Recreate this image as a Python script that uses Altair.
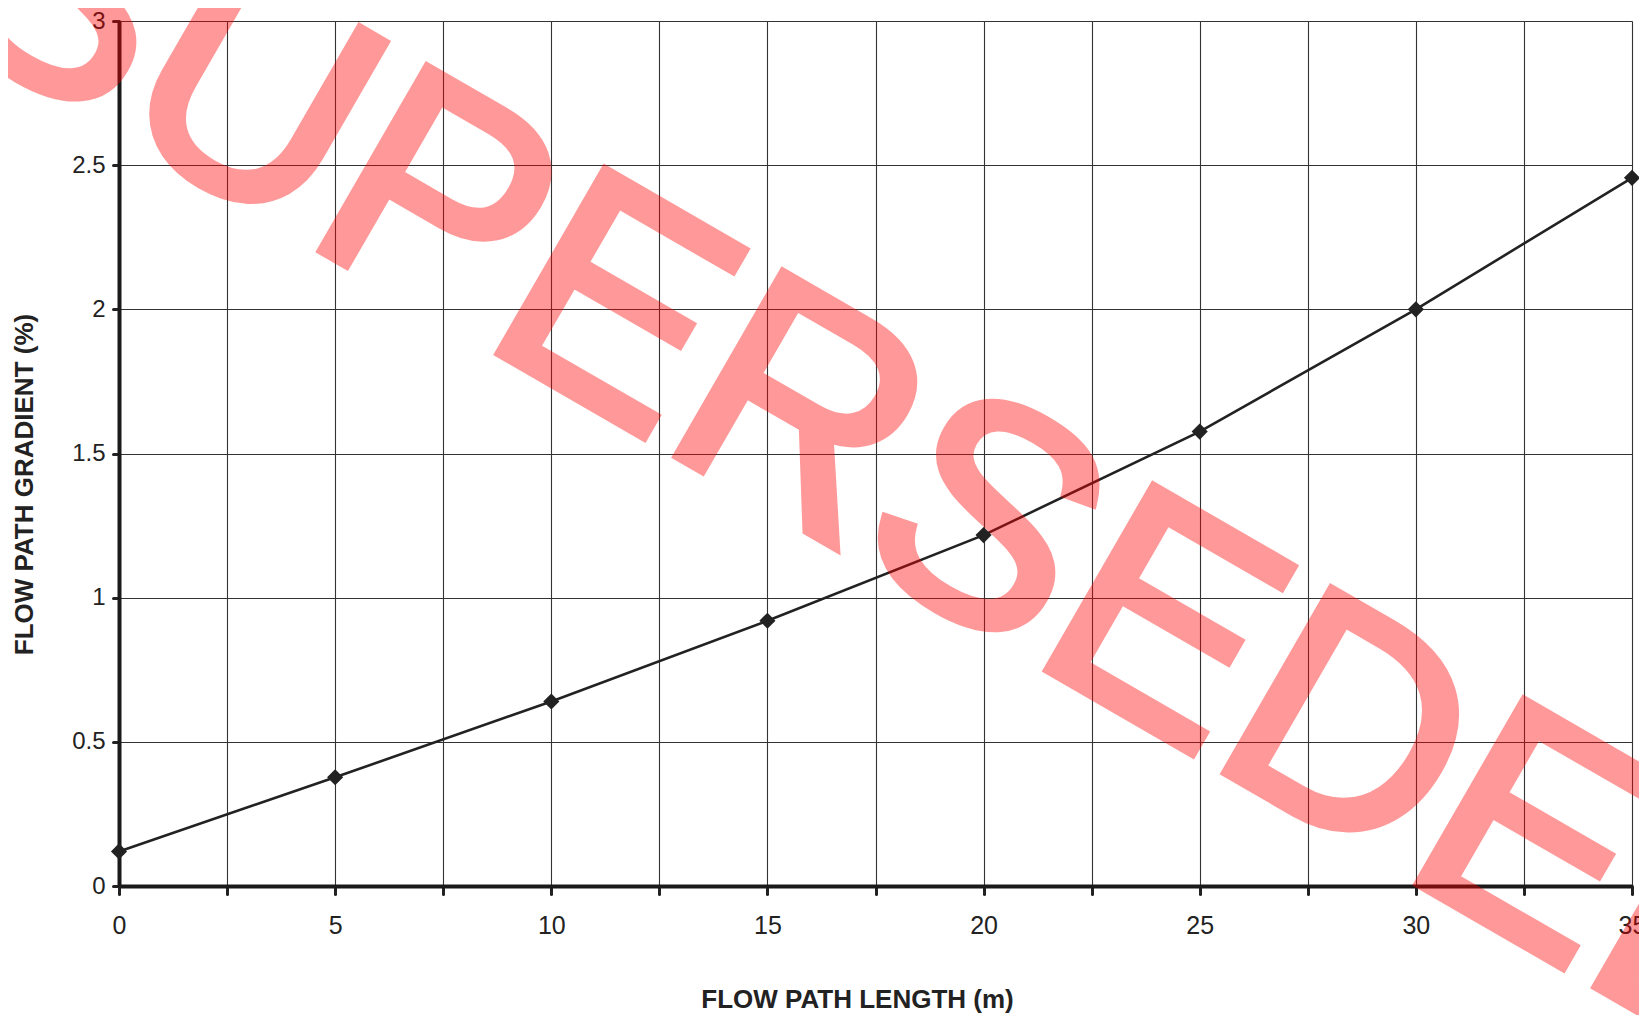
import altair as alt
import pandas as pd

# data
flow_length = [0, 5, 10, 15, 20, 25, 30, 35]
flow_gradient = [0.12, 0.377, 0.64, 0.92, 1.217, 1.576, 2.0, 2.456]
x_ticks = [0, 2.5, 5, 7.5, 10, 12.5, 15, 17.5, 20, 22.5, 25, 27.5, 30, 32.5, 35]
y_ticks = [0, 0.5, 1, 1.5, 2, 2.5, 3]
watermark = ["SUPERSEDED"]

df = pd.DataFrame({"length": flow_length, "gradient": flow_gradient})
wm = pd.DataFrame({"t": watermark})

FONT = "Liberation Sans"

x_enc = alt.X(
    "length:Q",
    scale=alt.Scale(domain=[0, 35], nice=False, zero=False),
    axis=alt.Axis(
        values=x_ticks,
        labelExpr="datum.value % 5 == 0 ? datum.label : ''",
        title="FLOW PATH LENGTH (m)",
        titleX=738, titleY=113, titleBaseline="middle", titleAlign="center",
        titleFontSize=26, titleFontWeight="bold", titleFont=FONT, titleColor="#222",
        labelFontSize=25, labelFont=FONT, labelColor="#222", labelPadding=19,
        tickSize=8, tickWidth=3, tickColor="#222", tickCap="round",
        domainColor="#1a1a1a", domainWidth=4,
        grid=True, gridColor="#333", gridWidth=1.1,
        labelFlush=False, labelOverlap=False,
    ),
)
y_enc = alt.Y(
    "gradient:Q",
    scale=alt.Scale(domain=[0, 3], nice=False, zero=True),
    axis=alt.Axis(
        values=y_ticks,
        format="~g",
        title="FLOW PATH GRADIENT (%)",
        titleX=-95, titleY=463, titleBaseline="middle", titleAlign="center", titleAngle=-90,
        titleFontSize=26, titleFontWeight="bold", titleFont=FONT, titleColor="#222",
        labelFontSize=24, labelFont=FONT, labelColor="#222", labelPadding=8,
        tickSize=6, tickWidth=3, tickColor="#222", tickCap="round",
        domainColor="#1a1a1a", domainWidth=4,
        grid=True, gridColor="#333", gridWidth=1.1,
        labelFlush=False, labelOverlap=False,
    ),
)

line = alt.Chart(df).mark_line(color="#222", strokeWidth=2.6).encode(x=x_enc, y=y_enc)
pts = alt.Chart(df).mark_point(
    shape="diamond", filled=True, color="#222", size=260, opacity=1
).encode(x="length:Q", y="gradient:Q")

mark = alt.Chart(wm).mark_text(
    font=FONT, fontSize=308, angle=30, align="left", baseline="alphabetic",
    color="#ff0000", stroke="#ff0000", strokeWidth=9, strokeJoin="miter", opacity=0.4,
).encode(text="t:N", x=alt.value(-190), y=alt.value(3))

chart = alt.layer(line, pts, mark).properties(
    width=1513, height=865,
    autosize=alt.AutoSizeParams(type="none"),
    padding={"left": 111, "top": 13, "right": 7, "bottom": 129},
).configure_view(stroke="#1a1a1a", strokeWidth=4).configure(background="white")

chart.save("out.html", embed_options={"renderer": "svg", "actions": False})
